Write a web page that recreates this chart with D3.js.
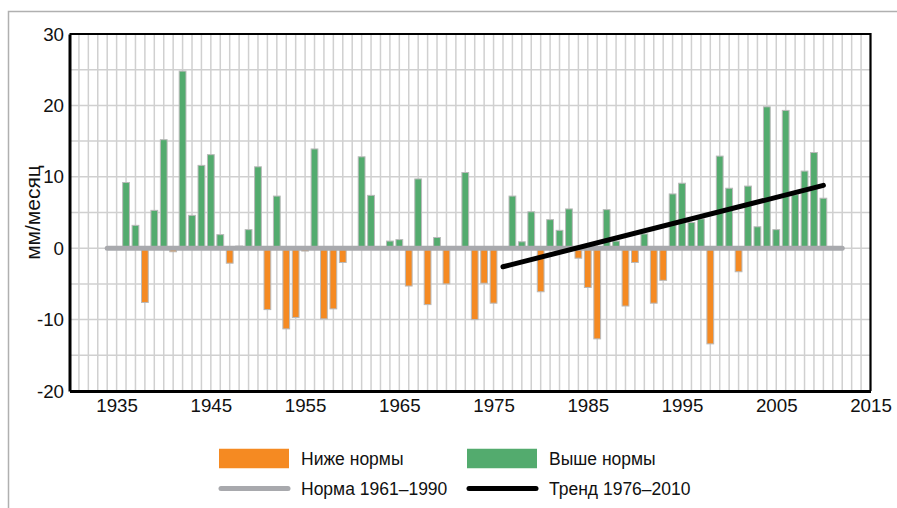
<!DOCTYPE html>
<html>
<head>
<meta charset="utf-8">
<script src="https://cdn.jsdelivr.net/npm/d3@7"></script>
<style>
  html, body { margin: 0; padding: 0; background: #fff; }
  svg { display: block; font-family: "Liberation Sans", Arial, Helvetica, sans-serif; }
</style>
</head>
<body>
<svg id="chart" width="897" height="508"></svg>
<script>
// Monthly precipitation anomaly (mm/month) relative to the 1961–1990 norm
const years = d3.range(1936, 2011);
const anomalies = [
  9.2, 3.2, -7.6, 5.3, 15.2, -0.5, 24.8, 4.6, 11.6, 13.1,   // 1936–1945
  1.9, -2.1, 0.3, 2.6, 11.4, -8.6, 7.3, -11.3, -9.7, -0.4,  // 1946–1955
  13.9, -9.9, -8.5, -2.0, null, 12.8, 7.4, null, 1.0, 1.2,  // 1956–1965
  -5.3, 9.7, -7.9, 1.5, -5.0, null, 10.6, -10.0, -4.9, -7.7, // 1966–1975
  null, 7.3, 0.9, 5.1, -6.1, 4.0, 2.5, 5.5, -1.4, -5.5,     // 1976–1985
  -12.7, 5.4, 1.0, -8.1, -2.0, 2.0, -7.7, -4.5, 7.6, 9.1,   // 1986–1995
  3.6, 4.1, -13.4, 12.9, 8.4, -3.3, 8.7, 3.0, 19.8, 2.6,    // 1996–2005
  19.3, 7.5, 10.8, 13.4, 7.0                                // 2006–2010
];
const normSpan = [1934, 2012];          // extent of the zero (norm) line
const trendYears = [1976, 2010];
const trendValues = [-2.6, 8.8];
const xTickYears = [1935, 1945, 1955, 1965, 1975, 1985, 1995, 2005, 2015];
const yTickValues = [-20, -10, 0, 10, 20, 30];
const yAxisTitle = "мм/месяц";
const legendLabels = ["Ниже нормы", "Выше нормы", "Норма 1961–1990", "Тренд 1976–2010"];

const colBelow = "#f58a22";
const colAbove = "#53ab6e";
const colNorm = "#a8a9ad";
const colGrid = "#d0d0d0";

const svg = d3.select("#chart");
const plot = { left: 69.5, right: 870.5, top: 34, bottom: 391 };

const x = d3.scaleLinear().domain([1930, 2015]).range([plot.left, plot.right]);
const y = d3.scaleLinear().domain([-20, 30]).range([plot.bottom, plot.top]);
const step = x(1931) - x(1930);
const barW = step * 0.72;

// outer frame (left and top edges visible)
svg.append("path")
  .attr("d", `M8.5,${508}V11.5H${897}`)
  .attr("fill", "none").attr("stroke", "#b0b0b0").attr("stroke-width", 1.5);

// grid
const grid = svg.append("g");
grid.selectAll("line.v").data(d3.range(1931, 2015)).join("line")
  .attr("x1", d => x(d)).attr("x2", d => x(d))
  .attr("y1", plot.top).attr("y2", plot.bottom)
  .attr("stroke", colGrid).attr("stroke-width", 1.5);
grid.selectAll("line.h").data(d3.range(-15, 30, 5)).join("line")
  .attr("x1", plot.left).attr("x2", plot.right)
  .attr("y1", d => y(d)).attr("y2", d => y(d))
  .attr("stroke", colGrid).attr("stroke-width", 1.5);

// bars
const data = years.map((yr, i) => ({ year: yr, value: anomalies[i] })).filter(d => d.value !== null);
svg.append("g").selectAll("rect").data(data).join("rect")
  .attr("x", d => x(d.year) - barW / 2)
  .attr("width", barW)
  .attr("y", d => y(Math.max(0, d.value)))
  .attr("height", d => Math.abs(y(d.value) - y(0)))
  .attr("fill", d => d.value < 0 ? colBelow : colAbove)
  .attr("stroke", "#b9b9b9").attr("stroke-width", 1);

// norm line
svg.append("line")
  .attr("x1", x(normSpan[0])).attr("x2", x(normSpan[1]))
  .attr("y1", y(0)).attr("y2", y(0))
  .attr("stroke", colNorm).attr("stroke-width", 5).attr("stroke-linecap", "round");

// trend line
svg.append("line")
  .attr("x1", x(trendYears[0])).attr("x2", x(trendYears[1]))
  .attr("y1", y(trendValues[0])).attr("y2", y(trendValues[1]))
  .attr("stroke", "#000").attr("stroke-width", 5).attr("stroke-linecap", "round");

// plot frame: top and right thin, left and bottom axes heavy
svg.append("path")
  .attr("d", `M${plot.left},${plot.top}H${plot.right}V${plot.bottom}`)
  .attr("fill", "none").attr("stroke", "#000").attr("stroke-width", 2.2);

// axes
const fmt = d => String(d);
const xAxis = d3.axisBottom(x).tickValues(xTickYears).tickFormat(fmt).tickSize(0).tickPadding(7.5);
const gx = svg.append("g").attr("transform", `translate(0,${plot.bottom})`).call(xAxis);
gx.select(".domain").attr("stroke", "#000").attr("stroke-width", 3);
gx.selectAll("text").attr("font-size", 18.75).attr("fill", "#111").attr("font-family", "Liberation Sans, Arial, sans-serif");

const yAxis = d3.axisLeft(y).tickValues(yTickValues).tickFormat(fmt).tickSize(0).tickPadding(5.5);
const gy = svg.append("g").attr("transform", `translate(${plot.left},0)`).call(yAxis);
gy.select(".domain").attr("stroke", "#000").attr("stroke-width", 3);
gy.selectAll("text").attr("font-size", 18.75).attr("fill", "#111").attr("font-family", "Liberation Sans, Arial, sans-serif");

svg.append("text")
  .attr("transform", "translate(39.5,212.5) rotate(-90)")
  .attr("text-anchor", "middle")
  .attr("font-size", 21).attr("fill", "#111")
  .text(yAxisTitle);

// legend
const legend = svg.append("g").attr("font-size", 17.5).attr("fill", "#111");
const legendItems = [
  { label: legendLabels[0], type: "rect", color: colBelow, x: 219, y: 458.5 },
  { label: legendLabels[1], type: "rect", color: colAbove, x: 467, y: 458.5 },
  { label: legendLabels[2], type: "line", color: colNorm, x: 219, y: 488.5 },
  { label: legendLabels[3], type: "line", color: "#000", x: 467, y: 488.5 }
];
legendItems.forEach(it => {
  if (it.type === "rect") {
    legend.append("rect").attr("x", it.x).attr("y", it.y - 9.75).attr("width", 70).attr("height", 19.5).attr("fill", it.color);
  } else {
    legend.append("line").attr("x1", it.x + 2).attr("x2", it.x + 69).attr("y1", it.y).attr("y2", it.y)
      .attr("stroke", it.color).attr("stroke-width", 5).attr("stroke-linecap", "round");
  }
  legend.append("text").attr("x", it.x + 82).attr("y", it.y + 6.3).text(it.label);
});
</script>
</body>
</html>
